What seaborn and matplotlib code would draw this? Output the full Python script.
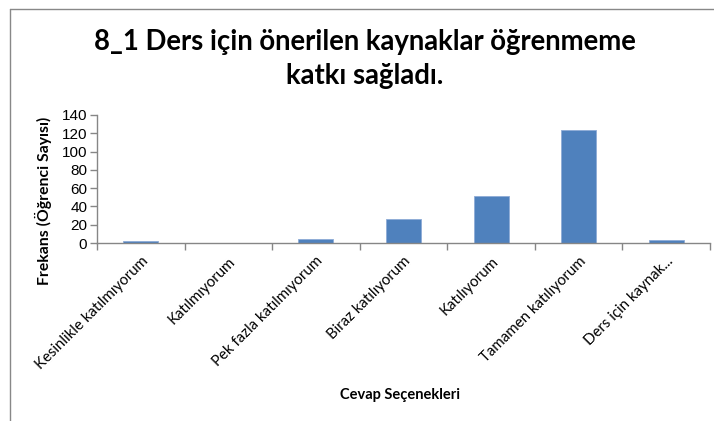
import matplotlib
matplotlib.use('Agg')
import matplotlib.pyplot as plt
import seaborn as sns
import pandas as pd
from matplotlib.lines import Line2D

categories = ["Kesinlikle katılmıyorum", "Katılmıyorum", "Pek fazla katılmıyorum",
              "Biraz katılıyorum", "Katılıyorum", "Tamamen katılıyorum", "Ders için kaynak..."]
values = [2, 0, 4, 26, 51, 124, 3]
yticks = [0, 20, 40, 60, 80, 100, 120, 140]
title = "8_1 Ders için önerilen kaynaklar öğrenmeme\nkatkı sağladı."
ylabel = "Frekans (Öğrenci Sayısı)"
xlabel = "Cevap Seçenekleri"

sns.set_theme(style='white')
plt.rcParams['font.family'] = ['Lato', 'DejaVu Sans']

W, H = 714, 421
fig = plt.figure(figsize=(W / 100, H / 100), dpi=100)
ax = fig.add_axes([97 / W, 1 - 243 / H, 613 / W, 128 / H])

df = pd.DataFrame({'cat': categories, 'val': values})
sns.barplot(data=df, x='cat', y='val', color='#4F81BD', width=0.4, saturation=1,
            edgecolor='#8EABD6', linewidth=0.6, ax=ax)

ax.set_xlim(-0.5, 6.5)
ax.set_ylim(0, 140)
ax.set_yticks(yticks)
ax.set_yticklabels([str(t) for t in yticks], fontfamily='Liberation Sans', fontsize=11, color='#000000')
ax.set_xticks(range(len(categories)))
ax.set_xticklabels(categories, rotation=45, ha='right', va='top', rotation_mode='anchor',
                   fontsize=10.8, color='#000000')
ax.set_xticks([i - 0.5 for i in range(len(categories) + 1)], minor=True)
ax.tick_params(axis='x', which='major', length=0, pad=8)
ax.tick_params(axis='x', which='minor', length=5, width=1, color='#868686', direction='out', bottom=True)
ax.tick_params(axis='y', which='major', length=5, width=1, color='#868686', direction='out', left=True, pad=2)
for s in ['top', 'right']:
    ax.spines[s].set_visible(False)
for s in ['left', 'bottom']:
    ax.spines[s].set_color('#868686')
    ax.spines[s].set_linewidth(1)
ax.set_xlabel('')
ax.set_ylabel('')
ax.grid(False)

fig.text(365 / W, 1 - 59 / H, title, ha='center', va='center', fontsize=19.8, fontweight='bold',
         linespacing=1.4, color='#000000')
fig.text(43 / W, 1 - 201 / H, ylabel, rotation=90, ha='center', va='center', fontsize=11.3,
         fontweight='bold', color='#000000')
fig.text(400 / W, 1 - 395 / H, xlabel, ha='center', va='center', fontsize=10.5,
         fontweight='bold', color='#000000')

fig.add_artist(Line2D([9.5 / W, 9.5 / W], [0, 1 - 9 / H], color='#888888', lw=1))
fig.add_artist(Line2D([9.5 / W, 1], [1 - 9 / H, 1 - 9 / H], color='#888888', lw=1))

fig.savefig('out.png', dpi=100, facecolor='white')
